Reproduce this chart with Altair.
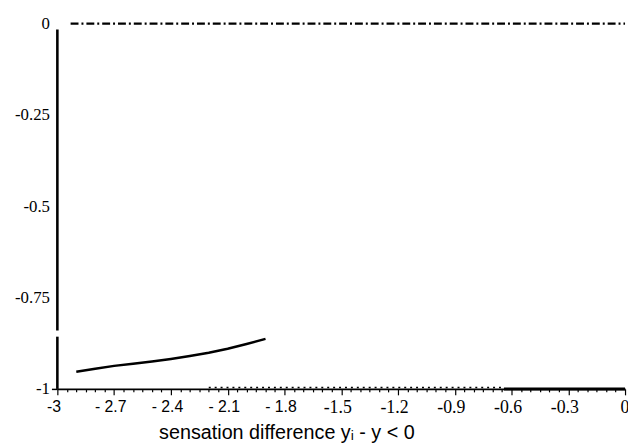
import altair as alt
import pandas as pd

# ---- data ----
curve_x = [-2.9, -2.8, -2.7, -2.6, -2.5, -2.4, -2.3, -2.2, -2.1, -2.0, -1.9]
curve_y = [-0.953, -0.945, -0.937, -0.931, -0.925, -0.918, -0.910, -0.901, -0.890, -0.877, -0.863]

top_x = [-2.93, 0.0]
top_y = [0.0, 0.0]

dot_x = [-2.2, -0.64]
dot_y = [-0.996, -0.996]

thick_x = [-0.64, 0.0]
thick_y = [-1.0, -1.0]

# left axis line drawn in two pieces (gap in the original)
yline_x = [-3.0, -3.0]
yline_y = [-0.016, -0.857]
yline_y2 = [-0.84, -1.0]

x_major = [-3.0, -2.7, -2.4, -2.1, -1.8, -1.5, -1.2, -0.9, -0.6, -0.3, 0.0]
x_labels = ["-3", "- 2.7", "- 2.4", "- 2.1", "- 1.8", "-1.5", "-1.2", "-0.9", "-0.6", "-0.3", "0"]
x_minor = [round(-3 + 0.05 * i, 2) for i in range(61)]

y_ticks = [0.0, -0.25, -0.5, -0.75, -1.0]
y_labels = ["0", "-0.25", "-0.5", "-0.75", "-1"]

x_title = "sensation difference yᵢ - y < 0"

# ---- helpers for axis expressions ----
xk = "[" + ",".join(str(int(round(v * 100))) for v in x_major) + "]"
xl = "[" + ",".join("'" + s + "'" for s in x_labels) + "]"
xidx = f"indexof({xk}, round(datum.value*100))"
x_label_expr = f"{xidx} >= 0 ? {xl}[{xidx}] : ''"

yk = "[" + ",".join(str(int(round(v * 100))) for v in y_ticks) + "]"
yl = "[" + ",".join("'" + s + "'" for s in y_labels) + "]"
yidx = f"indexof({yk}, round(datum.value*100))"
y_label_expr = f"{yidx} >= 0 ? {yl}[{yidx}] : ''"

xscale = alt.Scale(domain=[-3, 0], nice=False, zero=False)
yscale = alt.Scale(domain=[-1, 0], nice=False, zero=False)

sans_test = "datum.value < -1.65"

xaxis = alt.Axis(
    values=x_minor,
    labelExpr=x_label_expr,
    labelOverlap=False,
    labelFlush=False,
    labelFont={"condition": {"test": sans_test, "value": "Liberation Sans"}, "value": "Liberation Serif"},
    labelFontSize={"condition": {"test": sans_test, "value": 16}, "value": 18},
    labelAlign={"condition": {"test": "datum.value == 0", "value": "right"}, "value": "center"},
    labelOffset={"condition": {"test": "datum.value == 0", "value": 4}, "value": -4},
    labelColor="black",
    labelPadding=4,
    tickSize={"condition": {"test": f"{xidx} >= 0", "value": 6}, "value": 3},
    tickColor="black",
    tickWidth=1.2,
    domain=True,
    domainColor="black",
    domainWidth=1.6,
    grid=False,
    title=x_title,
    titleFont="Liberation Sans",
    titleFontSize=20,
    titleFontWeight="normal",
    titleColor="black",
    titleX=232,
    titleY=50,
    titleAlign="center",
    titleBaseline="alphabetic",
)

yaxis = alt.Axis(
    values=y_ticks,
    labelExpr=y_label_expr,
    labelOverlap=False,
    labelFlush=False,
    labelFont="Liberation Serif",
    labelFontSize=17,
    labelColor="black",
    labelPadding=2,
    tickSize=6,
    tickColor="black",
    tickWidth=1.5,
    tickOpacity={"condition": {"test": "datum.value == -1", "value": 1}, "value": 0},
    domain=False,
    grid=False,
    title=None,
)

X = alt.X("x:Q", scale=xscale, axis=xaxis)
Y = alt.Y("y:Q", scale=yscale, axis=yaxis)

curve_df = pd.DataFrame({"x": curve_x, "y": curve_y})
top_df = pd.DataFrame({"x": top_x, "y": top_y})
dot_df = pd.DataFrame({"x": dot_x, "y": dot_y})
thick_df = pd.DataFrame({"x": thick_x, "y": thick_y})
yline_df = pd.DataFrame({"x": yline_x, "y": yline_y, "y2": yline_y2})

curve = alt.Chart(curve_df).mark_line(color="black", strokeWidth=2.5).encode(x=X, y=Y)
top = alt.Chart(top_df).mark_line(color="black", strokeWidth=2.4, strokeDash=[8, 3, 2, 3]).encode(x=X, y=Y)
dots = alt.Chart(dot_df).mark_line(color="black", strokeWidth=1.5, strokeDash=[2, 4]).encode(x=X, y=Y)
thick = alt.Chart(thick_df).mark_line(color="black", strokeWidth=3).encode(x=X, y=Y)
yline = alt.Chart(yline_df).mark_rule(color="black", strokeWidth=2.6).encode(x=X, y=Y, y2="y2:Q")

chart = (
    alt.layer(yline, top, curve, dots, thick)
    .properties(
        width=575,
        height=370,
        padding={"left": 50, "top": 13, "right": 3, "bottom": 55},
        autosize=alt.AutoSizeParams(type="none"),
        background="white",
    )
    .configure_view(stroke=None)
)

chart.save("out.html", embed_options={"renderer": "svg", "actions": False})
